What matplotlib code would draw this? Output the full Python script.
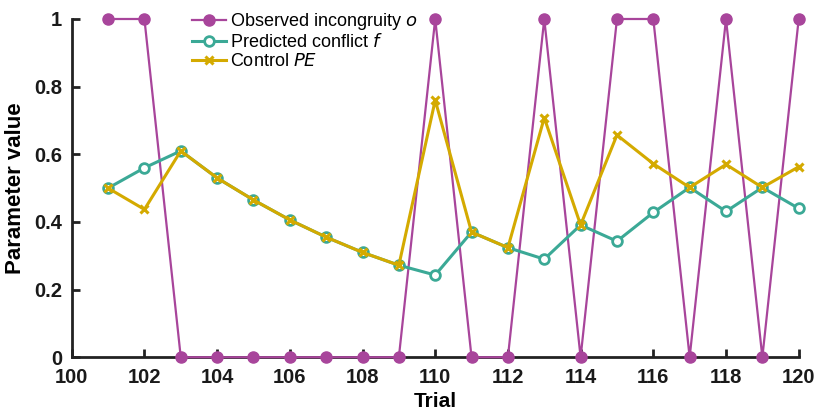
import matplotlib
matplotlib.use('Agg')
import matplotlib.pyplot as plt

plt.rcParams['font.family'] = ['Liberation Sans', 'DejaVu Sans']

# data
trials = list(range(101, 121))
observed = [1, 1, 0, 0, 0, 0, 0, 0, 0, 1, 0, 0, 1, 0, 1, 1, 0, 1, 0, 1]
predicted = [0.50, 0.56, 0.61, 0.53, 0.465, 0.406, 0.355, 0.31, 0.272, 0.243,
             0.37, 0.324, 0.29, 0.391, 0.343, 0.428, 0.502, 0.431, 0.502, 0.44]
control = [0.50, 0.437, 0.61, 0.53, 0.465, 0.406, 0.355, 0.31, 0.272, 0.76,
           0.37, 0.324, 0.708, 0.391, 0.657, 0.572, 0.502, 0.57, 0.502, 0.563]

purple = '#A8459B'
teal = '#3BA996'
gold = '#D4AA00'

fig = plt.figure(figsize=(8.15, 4.13), dpi=100)
ax = fig.add_axes([0.088, 0.135, 0.892, 0.819])

ax.plot(trials, observed, '-o', color=purple, lw=1.6, ms=8, clip_on=False, zorder=3,
        label='Observed incongruity $\\it{o}$')
ax.plot(trials, predicted, '-o', color=teal, lw=2.2, ms=7, mfc='white', mew=2,
        clip_on=False, zorder=4, label='Predicted conflict $\\it{f}$')
ax.plot(trials, control, '-x', color=gold, lw=2.2, ms=6, mew=2.2, clip_on=False,
        zorder=5, label='Control $\\it{PE}$')

ax.set_xlim(100, 120)
ax.set_ylim(0, 1)
ax.set_xticks(range(100, 121, 2))
ax.set_yticks([0, 0.2, 0.4, 0.6, 0.8, 1])
ax.set_yticklabels(['0', '0.2', '0.4', '0.6', '0.8', '1'])

for s in ['top', 'right']:
    ax.spines[s].set_visible(False)
for s in ['left', 'bottom']:
    ax.spines[s].set_linewidth(2)
    ax.spines[s].set_color('#222222')

ax.tick_params(direction='in', length=6, width=2, color='#222222', labelsize=14.5)
ax.tick_params(axis='x', pad=8)
ax.tick_params(axis='y', pad=7)
for lab in ax.get_xticklabels() + ax.get_yticklabels():
    lab.set_fontweight('bold')
    lab.set_color('#1a1a1a')

ax.set_xlabel('Trial', fontsize=15, fontweight='bold', labelpad=3)
ax.set_ylabel('Parameter value', fontsize=16, fontweight='bold', labelpad=6)

ax.legend(loc='upper left', bbox_to_anchor=(0.155, 1.045), frameon=False, fontsize=13,
          handlelength=1.9, handletextpad=0.2, labelspacing=0.08, borderaxespad=0)

fig.savefig('out.png', dpi=100)
